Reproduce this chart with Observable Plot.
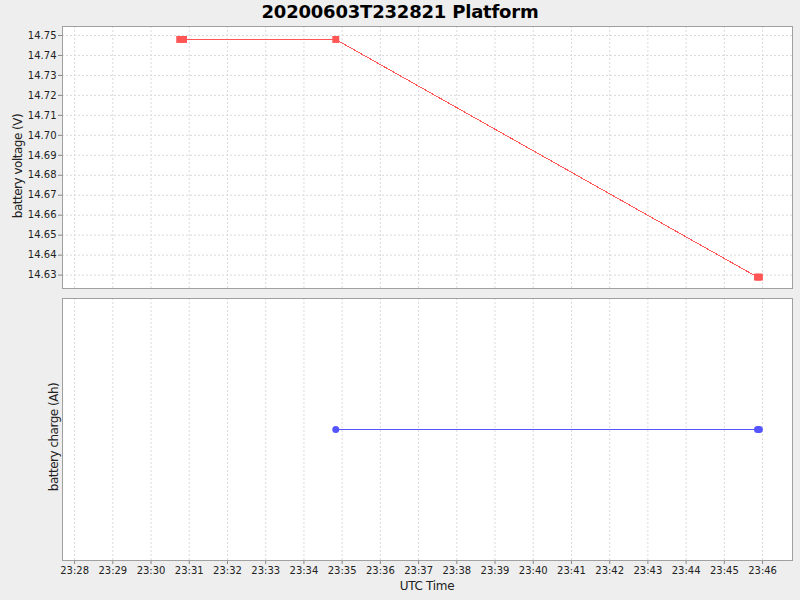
<!DOCTYPE html>
<html><head><meta charset="utf-8">
<script src="https://cdn.jsdelivr.net/npm/d3@7"></script>
<script src="https://cdn.jsdelivr.net/npm/@observablehq/plot@0.6"></script>
<style>
body{margin:0;background:#eeeeee;font-family:"DejaVu Sans",sans-serif;}
#wrap{position:relative;width:800px;height:600px;background:#eeeeee;overflow:hidden}
.abs{position:absolute}
.ylab{width:200px;height:14px;line-height:14px;text-align:center;font-size:12px;color:#222;transform:rotate(-90deg);transform-origin:50% 50%;letter-spacing:-0.5px;white-space:nowrap}
</style></head><body>
<div id="wrap">
<div id="top" class="abs" style="left:0;top:0"></div>
<div id="bot" class="abs" style="left:0;top:288px"></div>
<div class="abs" style="left:0;width:800px;top:1px;text-align:center;font-weight:bold;font-size:18px;line-height:22px;color:#000;letter-spacing:-0.2px">20200603T232821 Platform</div>
<div class="abs ylab" style="left:-82px;top:159px">battery voltage (V)</div>
<div class="abs ylab" style="left:-46px;top:430px">battery charge (Ah)</div>
<div class="abs" style="left:327px;width:200px;top:578px;text-align:center;font-size:12px;line-height:16px;color:#222;letter-spacing:-0.3px">UTC Time</div>
</div>
<script>
const day = "2020-06-03T";
const voltageTimes = ["23:30:45", "23:30:51", "23:34:50", "23:45:52", "23:45:55"];
const voltageValues = [14.748, 14.748, 14.748, 14.629, 14.629];
const chargeTimes = ["23:34:50", "23:45:52", "23:45:55"];
const chargeValues = [0, 0, 0];
const xTickLabels = ["23:28","23:29","23:30","23:31","23:32","23:33","23:34","23:35","23:36","23:37","23:38","23:39","23:40","23:41","23:42","23:43","23:44","23:45","23:46"];
const voltageTicks = [14.63,14.64,14.65,14.66,14.67,14.68,14.69,14.70,14.71,14.72,14.73,14.74,14.75];
const xDomainTimes = ["23:27:41", "23:46:47"];
const voltageDomain = [14.6233, 14.7545];
const chargeDomain = [-1, 1];

const parse = d3.utcParse("%Y-%m-%dT%H:%M:%S");
const T = s => parse(day + (s.length === 5 ? s + ":00" : s));
const xDom = xDomainTimes.map(T);
const xTicks = xTickLabels.map(T);
const vData = voltageTimes.map((t, i) => ({t: T(t), v: voltageValues[i]}));
const cData = chargeTimes.map((t, i) => ({t: T(t), v: chargeValues[i]}));
const gridStyle = {stroke: "#dadada", strokeOpacity: 1, strokeDasharray: "2,2", strokeWidth: 1};
const style = {background: "transparent", fontFamily: "DejaVu Sans", fontSize: "10px", color: "#222", overflow: "visible"};

const topPlot = Plot.plot({
  width: 800, height: 288,
  marginLeft: 62, marginRight: 8, marginTop: 26, marginBottom: 0,
  style,
  x: {type: "utc", domain: xDom, axis: null},
  y: {domain: voltageDomain},
  marks: [
    Plot.frame({fill: "white", stroke: null}),
    Plot.gridX(xTicks, gridStyle),
    Plot.gridY(voltageTicks, gridStyle),
    Plot.axisY(voltageTicks, {tickSize: 4, tickPadding: 2, tickFormat: d3.format(".2f"), label: null, stroke: "#888", fill: "#222"}),
    Plot.line(vData, {x: "t", y: "v", stroke: "#ff5555", strokeWidth: 1, shapeRendering: "crispEdges"}),
    Plot.dot(vData, {x: "t", y: "v", symbol: "square", r: 3.9, fill: "#ff5555", stroke: null}),
    Plot.frame({stroke: "#a0a0a0"})
  ]
});
document.getElementById("top").append(topPlot);

const botPlot = Plot.plot({
  width: 800, height: 312,
  marginLeft: 62, marginRight: 8, marginTop: 10, marginBottom: 40,
  style,
  x: {type: "utc", domain: xDom},
  y: {domain: chargeDomain, axis: null},
  marks: [
    Plot.frame({fill: "white", stroke: null}),
    Plot.gridX(xTicks, gridStyle),
    Plot.axisX(xTicks, {tickSize: 4, tickPadding: 2, tickFormat: d3.utcFormat("%H:%M"), label: null, stroke: "#888", fill: "#222"}),
    Plot.line(cData, {x: "t", y: "v", stroke: "#5555ff", strokeWidth: 1, shapeRendering: "crispEdges"}),
    Plot.dot(cData, {x: "t", y: "v", r: 3.5, fill: "#5555ff", stroke: null}),
    Plot.frame({stroke: "#a0a0a0"})
  ]
});
document.getElementById("bot").append(botPlot);
</script>
</body></html>
